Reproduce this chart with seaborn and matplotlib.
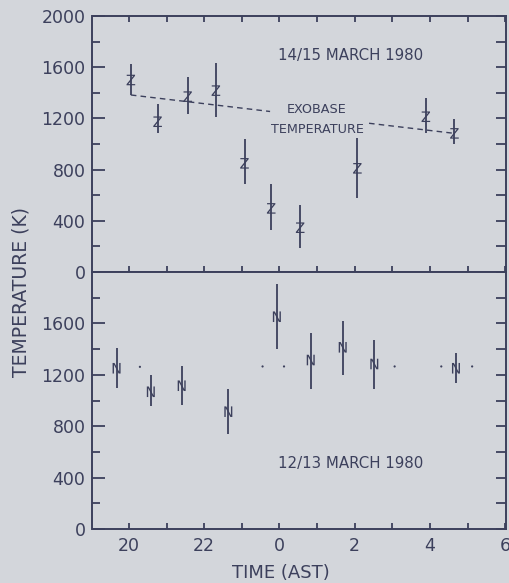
import numpy as np
import pandas as pd
import matplotlib
matplotlib.use("Agg")
import matplotlib.pyplot as plt
import seaborn as sns
from matplotlib.ticker import MultipleLocator, FixedLocator, FuncFormatter, NullFormatter

# ---- data (time in AST hours; values >= 24 are after midnight) ----
mar14_time = [20.05, 20.76, 21.56, 22.31, 23.07, 23.78, 24.55, 26.07, 27.89, 28.65]
mar14_temp = [1500, 1174, 1370, 1417, 849, 497, 346, 810, 1213, 1083]
mar14_low = [1383, 1083, 1232, 1213, 685, 328, 185, 580, 1083, 998]
mar14_high = [1625, 1312, 1526, 1630, 1036, 685, 523, 1049, 1362, 1193]

exo_time_a = [20.05, 23.75]
exo_temp_a = [1383, 1254]
exo_time_b = [26.38, 28.65]
exo_temp_b = [1162, 1083]

mar12_time = [19.67, 20.58, 21.40, 22.64, 23.93, 24.83, 25.68, 26.52, 28.69]
mar12_temp = [1251, 1068, 1115, 913, 1652, 1315, 1414, 1284, 1251]
mar12_low = [1095, 957, 965, 739, 1399, 1089, 1198, 1089, 1134]
mar12_high = [1406, 1198, 1268, 1087, 1907, 1528, 1619, 1471, 1367]

dot_time = [20.29, 23.55, 24.12, 27.06, 28.30, 29.12]
dot_temp = [1262, 1265, 1265, 1265, 1265, 1265]

x_ticks = [20, 22, 24, 26, 28, 30]
upper_yticks = [0, 400, 800, 1200, 1600, 2000]
lower_yticks = [0, 400, 800, 1200, 1600]

INK = "#3c405c"
BG = "#d3d6db"

sns.set_style("ticks")
plt.rcParams["font.family"] = ["DejaVu Sans"]

fig = plt.figure(figsize=(5.10, 5.83), dpi=100)
fig.patch.set_facecolor(BG)

L, W = 92.5 / 510, (506 - 92.5) / 510
ax_top = fig.add_axes([L, 1 - 272 / 583, W, 256 / 583])
ax_bot = fig.add_axes([L, 1 - 529 / 583, W, 257 / 583])

df14 = pd.DataFrame({"time": mar14_time, "temp": mar14_temp,
                     "low": mar14_low, "high": mar14_high})
df12 = pd.DataFrame({"time": mar12_time, "temp": mar12_temp,
                     "low": mar12_low, "high": mar12_high})

for ax, df, letter in [(ax_top, df14, "Z"), (ax_bot, df12, "N")]:
    ax.set_facecolor(BG)
    ax.vlines(df["time"], df["low"], df["high"], color=INK, lw=1.3, zorder=2)
    sns.scatterplot(data=df, x="time", y="temp", ax=ax,
                    marker=r"$\mathsf{" + letter + "}$", s=58, color=INK,
                    edgecolor="none", linewidth=0, zorder=3, legend=False)
    ax.set_xlim(19.03, 30.02)
    ax.set_ylim(0, 2000)
    ax.set_xlabel("")
    ax.set_ylabel("")
    for s in ax.spines.values():
        s.set_visible(True)
        s.set_color(INK)
        s.set_linewidth(1.4)
    ax.xaxis.set_major_locator(FixedLocator(x_ticks))
    ax.xaxis.set_minor_locator(MultipleLocator(1))
    ax.yaxis.set_minor_locator(MultipleLocator(200))
    ax.tick_params(axis="y", which="major", direction="in", length=9,
                   width=1.3, color=INK, labelcolor=INK, labelsize=12.5, pad=5,
                   left=True, right=False)
    ax.tick_params(axis="y", which="minor", direction="in", length=5.8,
                   width=1.3, color=INK, left=True, right=False)
    sec = ax.secondary_yaxis("right")
    sec.yaxis.set_major_locator(MultipleLocator(200))
    sec.yaxis.set_major_formatter(NullFormatter())
    sec.tick_params(direction="in", length=7, width=1.3, color=INK)
    sec.spines["right"].set_visible(False)

# upper panel specifics
ax_top.yaxis.set_major_locator(FixedLocator(upper_yticks))
ax_top.tick_params(axis="x", which="both", direction="in", length=4.5, width=1.3,
                   color=INK, top=True, bottom=True, labelbottom=False)
sns.lineplot(x=exo_time_a, y=exo_temp_a, ax=ax_top, color=INK, lw=1.0,
             linestyle=(0, (4, 3)), zorder=1)
sns.lineplot(x=exo_time_b, y=exo_temp_b, ax=ax_top, color=INK, lw=1.0,
             linestyle=(0, (4, 3)), zorder=1)
ax_top.text(25.9, 1688, "14/15 MARCH 1980", color=INK, fontsize=10.8,
            ha="center", va="center")
ax_top.text(25.0, 1266, "EXOBASE", color=INK, fontsize=9.2,
            ha="center", va="center")
ax_top.text(25.0, 1117, "TEMPERATURE", color=INK, fontsize=9.2,
            ha="center", va="center")

# lower panel specifics
ax_bot.yaxis.set_major_locator(FixedLocator(lower_yticks))
ax_bot.xaxis.set_major_formatter(FuncFormatter(lambda v, p: f"{int(round(v)) % 24}"))
ax_bot.tick_params(axis="x", which="both", direction="in", length=4.5, width=1.3,
                   color=INK, labelcolor=INK, labelsize=12.5, pad=6,
                   top=False, bottom=True)
sns.scatterplot(x=dot_time, y=dot_temp, ax=ax_bot, s=2.5, color=INK,
                edgecolor="none", legend=False)
ax_bot.text(25.9, 511, "12/13 MARCH 1980", color=INK, fontsize=10.8,
            ha="center", va="center")

fig.text(281 / 510, 1 - 573 / 583, "TIME (AST)", color=INK, fontsize=13,
         ha="center", va="center")
fig.text(21 / 510, 1 - 292 / 583, "TEMPERATURE (K)", color=INK, fontsize=13.5,
         ha="center", va="center", rotation=90)

fig.savefig("out.png", dpi=100, facecolor=BG)
